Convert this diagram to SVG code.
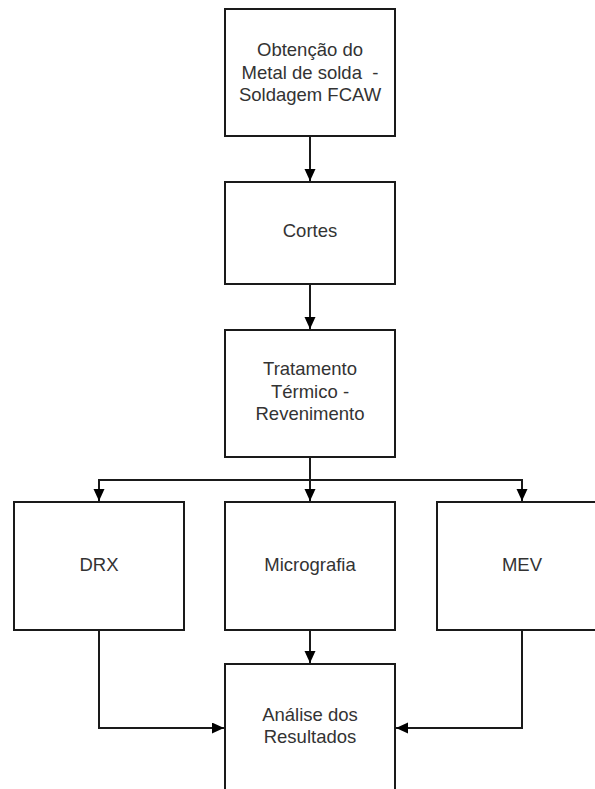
<svg xmlns="http://www.w3.org/2000/svg" width="595" height="789" viewBox="0 0 595 789">
  <style>
    .box { fill: #ffffff; stroke: #1a1a1a; stroke-width: 2; }
    .lbl { font-family: "Liberation Sans", Arial, sans-serif; font-size: 18.5px; fill: #333333; text-anchor: middle; }
    .conn { fill: none; stroke: #1a1a1a; stroke-width: 2; }
  </style>
  <defs>
    <marker id="arr" markerUnits="userSpaceOnUse" markerWidth="13" markerHeight="12" refX="12" refY="5.5" orient="auto">
      <path d="M0,0 L12,5.5 L0,11 z" fill="#000000"/>
    </marker>
  </defs>
  <rect width="595" height="789" fill="#ffffff"/>

  <g id="n-obtencao">
    <rect class="box" x="225" y="9" width="170" height="127"/>
    <text class="lbl" x="310" y="56">Obtenção do</text>
    <text class="lbl" x="310" y="78.5">Metal de solda &#160;-</text>
    <text class="lbl" x="310" y="101">Soldagem FCAW</text>
  </g>
  <g id="n-cortes">
    <rect class="box" x="225" y="182" width="170" height="102"/>
    <text class="lbl" x="310" y="237">Cortes</text>
  </g>
  <g id="n-tratamento">
    <rect class="box" x="225" y="330" width="170" height="127"/>
    <text class="lbl" x="310" y="375">Tratamento</text>
    <text class="lbl" x="310" y="398">Térmico -</text>
    <text class="lbl" x="310" y="420">Revenimento</text>
  </g>
  <g id="n-drx">
    <rect class="box" x="14" y="502" width="170" height="128"/>
    <text class="lbl" x="99" y="571">DRX</text>
  </g>
  <g id="n-micrografia">
    <rect class="box" x="225" y="502" width="170" height="128"/>
    <text class="lbl" x="310" y="571">Micrografia</text>
  </g>
  <g id="n-mev">
    <rect class="box" x="437" y="502" width="170" height="128"/>
    <text class="lbl" x="522" y="571">MEV</text>
  </g>
  <g id="n-analise">
    <rect class="box" x="225" y="664" width="170" height="130"/>
    <text class="lbl" x="310" y="721">Análise dos</text>
    <text class="lbl" x="310" y="743">Resultados</text>
  </g>

  <g id="connectors">
    <path class="conn" d="M310,136 L310,181" marker-end="url(#arr)"/>
    <path class="conn" d="M310,284 L310,329" marker-end="url(#arr)"/>
    <path class="conn" d="M310,457 L310,501" marker-end="url(#arr)"/>
    <path class="conn" d="M310,480 L99,480 L99,501" marker-end="url(#arr)"/>
    <path class="conn" d="M310,480 L522,480 L522,501" marker-end="url(#arr)"/>
    <path class="conn" d="M310,630 L310,663" marker-end="url(#arr)"/>
    <path class="conn" d="M99,630 L99,728 L224,728" marker-end="url(#arr)"/>
    <path class="conn" d="M522,630 L522,728 L396,728" marker-end="url(#arr)"/>
  </g>
</svg>
